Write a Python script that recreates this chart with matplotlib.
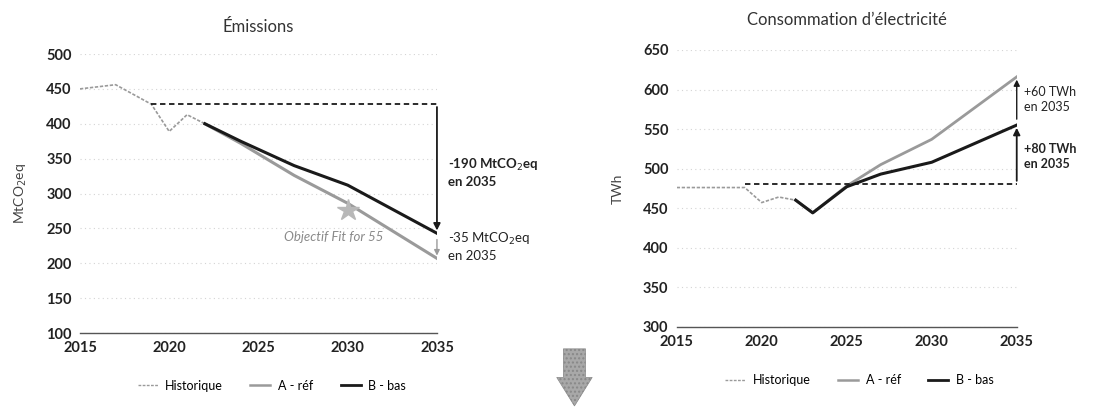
import matplotlib.pyplot as plt
from matplotlib.patches import FancyArrow
from matplotlib.lines import Line2D

plt.rcParams['font.family'] = ['Lato', 'DejaVu Sans']

# Émissions (MtCO2eq)
em_hist_years = [2015, 2017, 2019, 2020, 2021, 2022]
em_hist = [450, 456, 428, 389, 413, 400]
em_years = [2022, 2024, 2027, 2030, 2035]
em_a_ref = [400, 372, 326, 286, 207]
em_b_bas = [400, 375, 340, 312, 243]
em_ref_level = 428
em_star = (2030, 277)

# Consommation d'électricité (TWh)
el_hist_years = [2015, 2019, 2020, 2021, 2022]
el_hist = [476, 476, 457, 464, 460]
el_years = [2022, 2023, 2025, 2027, 2030, 2035]
el_a_ref = [460, 444, 478, 505, 537, 616]
el_b_bas = [460, 444, 477, 493, 508, 555]
el_ref_level = 481

years_ticks = [2015, 2020, 2025, 2030, 2035]

grey = '#9a9a9a'
black = '#1a1a1a'

fig = plt.figure(figsize=(11.09, 4.08), dpi=100)
ax1 = fig.add_axes([0.0721, 0.1838, 0.3219, 0.6838])
ax2 = fig.add_axes([0.6102, 0.1993, 0.3066, 0.6782])


def style_axis(ax, yticks):
    ax.set_xlim(2015, 2035)
    ax.set_ylim(yticks[0], yticks[-1])
    ax.set_xticks(years_ticks)
    ax.set_yticks(yticks)
    for s in ['top', 'right', 'left']:
        ax.spines[s].set_visible(False)
    ax.spines['bottom'].set_color('#555555')
    ax.spines['bottom'].set_linewidth(1.0)
    ax.tick_params(length=0, labelsize=10.5, colors='#222222', pad=6)
    for lab in ax.get_xticklabels() + ax.get_yticklabels():
        lab.set_fontweight('bold')
    ax.grid(axis='y', color='#d4d4d4', linestyle=(0, (1, 3)), linewidth=0.8)
    ax.set_axisbelow(True)


style_axis(ax1, [100, 150, 200, 250, 300, 350, 400, 450, 500])
style_axis(ax2, [300, 350, 400, 450, 500, 550, 600, 650])

# left chart
ax1.plot(em_hist_years, em_hist, color=grey, lw=1.2, linestyle=(0, (2, 1)))
ax1.plot(em_years, em_a_ref, color=grey, lw=2.2)
ax1.plot(em_years, em_b_bas, color=black, lw=2.2)
ax1.plot([2019, 2035], [em_ref_level, em_ref_level], color=black, lw=1.3,
         linestyle=(0, (3, 2)), clip_on=False)
ax1.annotate('', xy=(2035, em_b_bas[-1]), xytext=(2035, em_ref_level),
             arrowprops=dict(arrowstyle='-|>', color=black, lw=1.3), annotation_clip=False)
ax1.annotate('', xy=(2035, em_a_ref[-1]), xytext=(2035, em_b_bas[-1] - 5),
             arrowprops=dict(arrowstyle='-|>', color=grey, lw=1.0, mutation_scale=8),
             annotation_clip=False)
ax1.plot([em_star[0]], [em_star[1]], marker='*', markersize=16, color='#b8b8b8', zorder=5)
ax1.text(2029.2, 238, 'Objectif Fit for 55', fontsize=9.5, style='italic',
         color='#8a8a8a', ha='center', va='center')
ax1.text(2035.6, 330, '-190 MtCO$_2$eq\nen 2035', fontsize=9.5, fontweight='bold',
         color='#222222', ha='left', va='center', linespacing=1.3)
ax1.text(2035.6, 224, '-35 MtCO$_2$eq\nen 2035', fontsize=9.5,
         color='#222222', ha='left', va='center', linespacing=1.3)
ax1.set_ylabel('MtCO$_2$eq', fontsize=10, color='#444444', labelpad=12)
ax1.set_title('Émissions', fontsize=12, color='#333333', pad=16)

# right chart
ax2.plot(el_hist_years, el_hist, color=grey, lw=1.2, linestyle=(0, (2, 1)))
ax2.plot(el_years, el_a_ref, color=grey, lw=2.0)
ax2.plot(el_years, el_b_bas, color=black, lw=2.2)
ax2.plot([2019, 2035], [el_ref_level, el_ref_level], color=black, lw=1.3,
         linestyle=(0, (3, 2)), clip_on=False)
ax2.annotate('', xy=(2035, el_b_bas[-1]), xytext=(2035, el_ref_level),
             arrowprops=dict(arrowstyle='-|>', color=black, lw=1.3), annotation_clip=False)
ax2.annotate('', xy=(2035, el_a_ref[-1]), xytext=(2035, el_b_bas[-1] + 4),
             arrowprops=dict(arrowstyle='-|>', color=black, lw=1.0, mutation_scale=9),
             annotation_clip=False)
ax2.text(2035.4, 587, '+60 TWh\nen 2035', fontsize=9, color='#222222',
         ha='left', va='center', linespacing=1.3)
ax2.text(2035.4, 515, '+80 TWh\nen 2035', fontsize=9, fontweight='bold',
         color='#222222', ha='left', va='center', linespacing=1.3)
ax2.set_ylabel('TWh', fontsize=10, color='#444444', labelpad=14)
ax2.set_title('Consommation d\u2019électricité', fontsize=12, color='#333333', pad=18)

# legends
handles = [Line2D([], [], color=grey, lw=1.0, linestyle=(0, (2, 1))),
           Line2D([], [], color=grey, lw=1.8),
           Line2D([], [], color=black, lw=2.0)]
labels = ['Historique', 'A - réf', 'B - bas']
for ax, xc, yc in [(ax1, 0.245, 0.055), (ax2, 0.775, 0.068)]:
    fig.legend(handles, labels, loc='center', bbox_to_anchor=(xc, yc), ncol=3,
               frameon=False, fontsize=9, handlelength=1.6, columnspacing=2.2,
               handletextpad=0.6)

# big down arrow between charts
fig.patches.append(FancyArrow(0.518, 0.145, 0, -0.14, width=0.02, head_width=0.032,
                              head_length=0.07, length_includes_head=True,
                              transform=fig.transFigure, color='#a8a8a8', hatch='....',
                              ec='#888888', lw=0.5))

fig.savefig('out.png', dpi=100)
